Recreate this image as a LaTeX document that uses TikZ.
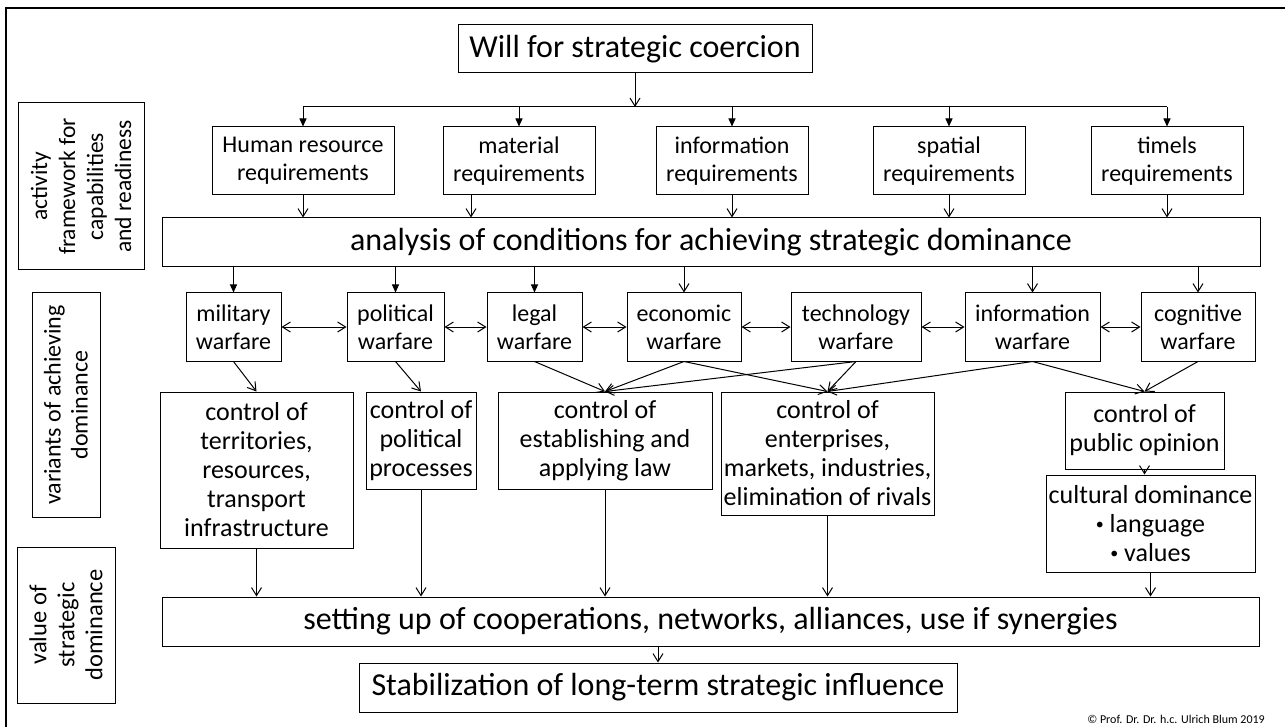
\documentclass[tikz,border=0pt]{standalone}
\usepackage{fontspec}
\setmainfont{Carlito}
\usetikzlibrary{arrows.meta,calc}
\newcommand{\smallbul}{\raisebox{2.5pt}{\fontsize{16}{16}\selectfont •}}
\begin{document}
\begin{tikzpicture}[x=1pt,y=-1pt,
  box/.style={draw, line width=1pt, inner sep=0pt, align=center},
  bigf/.style={font=\fontsize{32}{36}\selectfont},
  reqf/.style={font=\fontsize{24}{28}\selectfont},
  ctlf/.style={font=\fontsize{26}{29}\selectfont},
  op/.style={line width=1pt, -{Straight Barb[length=8pt,width=10pt]}},
  fl/.style={line width=1pt, -{Triangle[length=8pt,width=7pt]}},
  dbl/.style={line width=1pt, {Straight Barb[length=8pt,width=10pt]}-{Straight Barb[length=8pt,width=10pt]}},
  ln/.style={line width=1pt}
]
\useasboundingbox (0,0) rectangle (1285,727);
\draw[line width=1.5pt] (6,727) -- (6,8) -- (1285,8);

% side labels
\node[box,font=\fontsize{23.5}{28}\selectfont,rotate=90,minimum width=167pt,minimum height=126pt] (l1) at (81,186.5) {activity\\framework for\\capabilities\\and readiness};
\node[box,font=\fontsize{24}{27}\selectfont,rotate=90,minimum width=224pt,minimum height=68pt] (l2) at (66,405) {variants of achieving\\dominance};
\node[box,font=\fontsize{24.5}{28}\selectfont,rotate=90,minimum width=156pt,minimum height=98pt] (l3) at (66,625) {value of\\strategic\\dominance};

% top
\node[box,bigf,minimum width=354pt,minimum height=48pt] (will) at (635,49) {Will for strategic coercion};
\node[box,reqf,minimum width=182pt,minimum height=68pt] (hr) at (303,161) {Human resource\\requirements};
\node[box,reqf,minimum width=152pt,minimum height=68pt] (mat) at (519,161) {material\\requirements};
\node[box,reqf,minimum width=152pt,minimum height=68pt] (ir) at (732,161) {information\\requirements};
\node[box,reqf,minimum width=152pt,minimum height=68pt] (sp) at (949,161) {spatial\\requirements};
\node[box,reqf,minimum width=152pt,minimum height=68pt] (tl) at (1167,161) {timels\\requirements};
\node[box,bigf,minimum width=1098pt,minimum height=49pt] (an) at (711,242.5) {analysis of conditions for achieving strategic dominance};

% warfare
\node[box,reqf,minimum width=95pt,minimum height=68pt] (mil) at (233.5,327) {military\\warfare};
\node[box,reqf,minimum width=97pt,minimum height=68pt] (pol) at (395.5,327) {political\\warfare};
\node[box,reqf,minimum width=95pt,minimum height=68pt] (leg) at (534.5,327) {legal\\warfare};
\node[box,reqf,minimum width=114pt,minimum height=68pt] (eco) at (684,327) {economic\\warfare};
\node[box,reqf,minimum width=130pt,minimum height=68pt] (tec) at (856,327) {technology\\warfare};
\node[box,reqf,minimum width=135pt,minimum height=68pt] (iw) at (1032.5,327) {information\\warfare};
\node[box,reqf,minimum width=114pt,minimum height=68pt] (cog) at (1198,327) {cognitive\\warfare};

% control
\node[box,ctlf,minimum width=193pt,minimum height=156pt] (ter) at (256.5,470) {control of\\territories,\\resources,\\transport\\infrastructure};
\node[box,ctlf,minimum width=110pt,minimum height=97pt] (pp) at (421,440.5) {control of\\political\\processes};
\node[box,ctlf,minimum width=214pt,minimum height=97pt] (law) at (605,440.5) {control of\\establishing and\\applying law};
\node[box,ctlf,minimum width=213pt,minimum height=123pt] (ent) at (827.5,453.5) {control of\\enterprises,\\markets, industries,\\elimination of rivals};
\node[box,ctlf,minimum width=159pt,minimum height=77pt] (po) at (1144.5,430.5) {control of\\public opinion};
\node[box,ctlf,minimum width=209pt,minimum height=97pt] (cul) at (1150.5,523.5) {cultural dominance\\\smallbul\ language\\\smallbul\ values};

% bottom
\node[box,bigf,minimum width=1097pt,minimum height=49pt] (set) at (710.5,621.5) {setting up of cooperations, networks, alliances, use if synergies};
\node[box,bigf,minimum width=598pt,minimum height=49pt] (stab) at (658,687.5) {Stabilization of long-term strategic influence};

\node[font=\fontsize{12}{14}\selectfont,anchor=east,inner sep=0pt] (copy) at (1265,719) {© Prof. Dr. Dr. h.c. Ulrich Blum 2019};

% connectors
\coordinate (bar) at (635,107);
\draw[op] (will.south) -- (bar);
\draw[ln] (hr.north |- bar) -- (tl.north |- bar);
\foreach \n in {hr,mat,ir,sp,tl} \draw[fl] (\n.north |- bar) -- (\n.north);

\coordinate (matout) at ($(mat.south)+(-48,0)$);
\draw[op] (hr.south) -- (hr.south |- an.north);
\draw[op] (matout) -- (matout |- an.north);
\foreach \n in {ir,sp,tl} \draw[op] (\n.south) -- (\n.south |- an.north);

\foreach \n in {mil,pol,leg} \draw[fl] (\n.north |- an.south) -- (\n.north);
\foreach \n in {eco,iw,cog} \draw[op] (\n.north |- an.south) -- (\n.north);

\draw[dbl] (mil.east) -- (pol.west);
\draw[dbl] (pol.east) -- (leg.west);
\draw[dbl] (leg.east) -- (eco.west);
\draw[dbl] (eco.east) -- (tec.west);
\draw[dbl] (tec.east) -- (iw.west);
\draw[dbl] (iw.east) -- (cog.west);

\draw[op] (mil.south) -- (ter.north);
\draw[op] (pol.south) -- (pp.north);
\draw[op] (leg.south) -- (law.north);
\draw[op] (eco.south) -- (law.north);
\draw[op] (eco.south) -- (ent.north);
\draw[op] (tec.south) -- (law.north);
\draw[op] (tec.south) -- (ent.north);
\draw[op] (iw.south) -- (ent.north);
\draw[op] (iw.south) -- (po.north);
\draw[op] (cog.south) -- (po.north);
\draw[op] (po.south) -- (po.south |- cul.north);

\foreach \n in {ter,pp,law,ent,cul} \draw[op] (\n.south) -- (\n.south |- set.north);
\draw[op] (stab.north |- set.south) -- (stab.north);
\end{tikzpicture}
\end{document}
